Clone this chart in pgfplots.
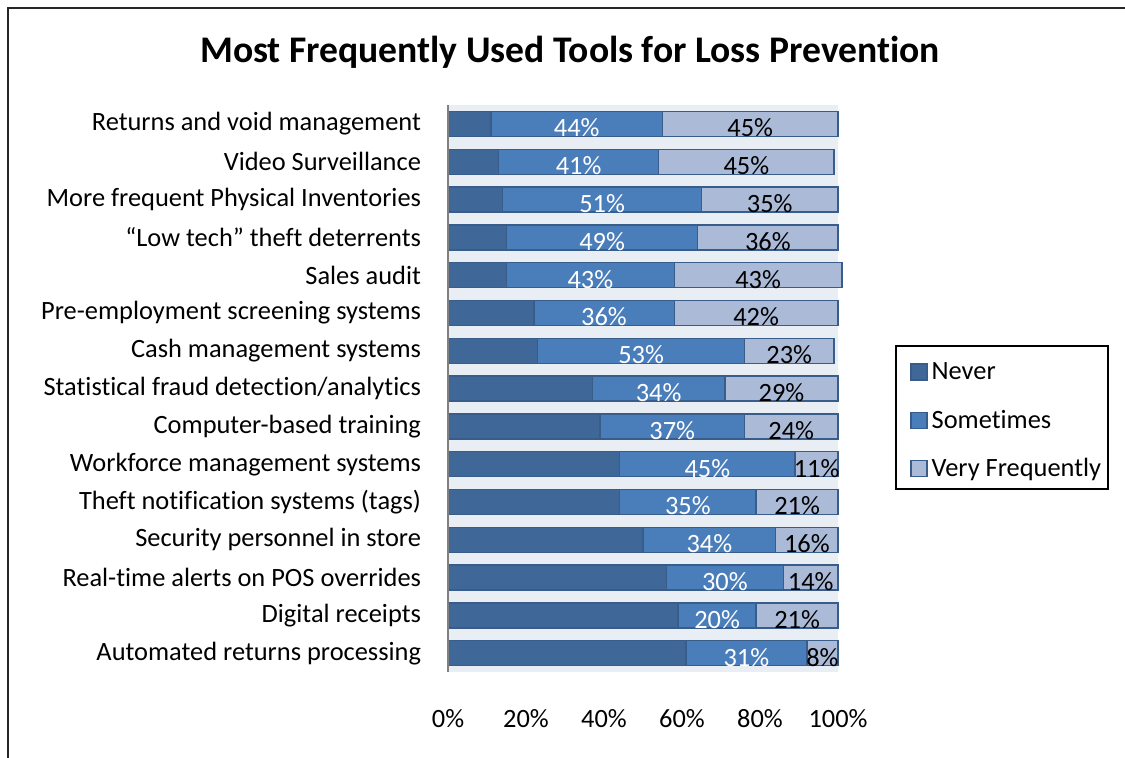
\documentclass[border=0pt]{standalone}
\usepackage{pgfplots}
\pgfplotsset{compat=1.18}
\usepackage{pgfplotstable}
\usepackage{fontspec}
\setmainfont{Carlito}[Ligatures=NoCommon]
\definecolor{cNever}{HTML}{3F6797}
\definecolor{cSome}{HTML}{4A7EBB}
\definecolor{cVery}{HTML}{AABAD7}
\definecolor{cEdge}{HTML}{385D8A}
\definecolor{bgcol}{HTML}{E9EDF4}

\pgfplotstableread{
y N S V
1 11 44 45
2 13 41 45
3 14 51 35
4 15 49 36
5 15 43 43
6 22 36 42
7 23 53 23
8 37 34 29
9 39 37 24
10 44 45 11
11 44 35 21
12 50 34 16
13 56 30 14
14 59 20 21
15 61 31 8
}\data

\pgfplotsset{geo/.style={
  at={(224bp,42.5bp)}, anchor=south west,
  scale only axis, width=195bp, height=283.5bp,
  xmin=0, xmax=100, ymin=0.5, ymax=15.5, y dir=reverse,
  clip=false,
  font=\fontsize{13.2bp}{15bp}\selectfont,
}}

\begin{document}
\begin{tikzpicture}[x=1bp,y=1bp]
\useasboundingbox (0,0) rectangle (562.5,378.5);
\clip (0,0) rectangle (562.5,378.5);
\fill[white] (0,0) rectangle (562.5,378.5);
\draw[line width=1bp, black!85] (4,-10) rectangle (600,374.5);
\begin{axis}[
  geo,
  xbar stacked, bar width=12.5bp,
  axis background/.style={fill=bgcol},
  axis line style={draw=none},
  major tick length=0pt,
  xtick={0,20,40,60,80,100},
  xticklabel={\pgfmathprintnumber{\tick}\%},
  /pgf/number format/assume math mode=true,
  xticklabel style={anchor=center, yshift=-23.5bp},
  ytick={1,...,15},
  yticklabels={Returns and void management, Video Surveillance, More frequent Physical Inventories, “Low tech” theft deterrents, Sales audit, Pre-employment screening systems, Cash management systems, Statistical fraud detection/analytics, Computer-based training, Workforce management systems, Theft notification systems (tags), Security personnel in store, Real-time alerts on POS overrides, Digital receipts, Automated returns processing},
  yticklabel style={anchor=east, xshift=-10bp},
  sq/.style={legend image code/.code={\path[draw=none, fill=none] (0bp,0bp) -- (14bp,0bp); \draw[##1, line width=0.7bp] (6bp,-5.5bp) rectangle (14bp,2.5bp);}},
  legend style={at={(1.146,0.577)}, anchor=north west, draw=black, line width=1bp,
    inner xsep=1.5bp, inner ysep=2.5bp, row sep=6.25bp,
    cells={anchor=west, inner xsep=1.5bp, text height=12.5bp, text depth=1.5bp},
    font=\fontsize{13.2bp}{15bp}\selectfont},
  extra description/.code={\draw[line width=1.3bp, black!50] (rel axis cs:0,0) -- (rel axis cs:0,1);},
]
\addplot[fill=cNever, draw=cEdge, line width=0.7bp, sq] table[x=N,y=y]{\data};
\addplot[fill=cSome, draw=cEdge, line width=0.7bp, sq] table[x=S,y=y]{\data};
\addplot[fill=cVery, draw=cEdge, line width=0.7bp, sq] table[x=V,y=y]{\data};
\legend{Never, Sometimes, Very Frequently}
\end{axis}
\begin{axis}[geo, hide axis]
\addplot[draw=none, mark=none,
  nodes near coords={\pgfmathprintnumber[assume math mode=true]{\pgfplotspointmeta}\%},
  point meta=explicit,
  nodes near coords style={anchor=center, text=white, yshift=-2bp, font=\fontsize{13.2bp}{15bp}\selectfont}
  ] table[x expr=\thisrow{N}+\thisrow{S}/2, y=y, meta=S]{\data};
\addplot[draw=none, mark=none,
  nodes near coords={\pgfmathprintnumber[assume math mode=true]{\pgfplotspointmeta}\%},
  point meta=explicit,
  nodes near coords style={anchor=center, text=black, yshift=-2bp, font=\fontsize{13.2bp}{15bp}\selectfont}
  ] table[x expr=\thisrow{N}+\thisrow{S}+\thisrow{V}/2, y=y, meta=V]{\data};
\end{axis}
\node[anchor=base, font=\bfseries\fontsize{18.8bp}{22bp}\selectfont] at (285,347.5) {Most Frequently Used Tools for Loss Prevention};
\end{tikzpicture}
\end{document}
